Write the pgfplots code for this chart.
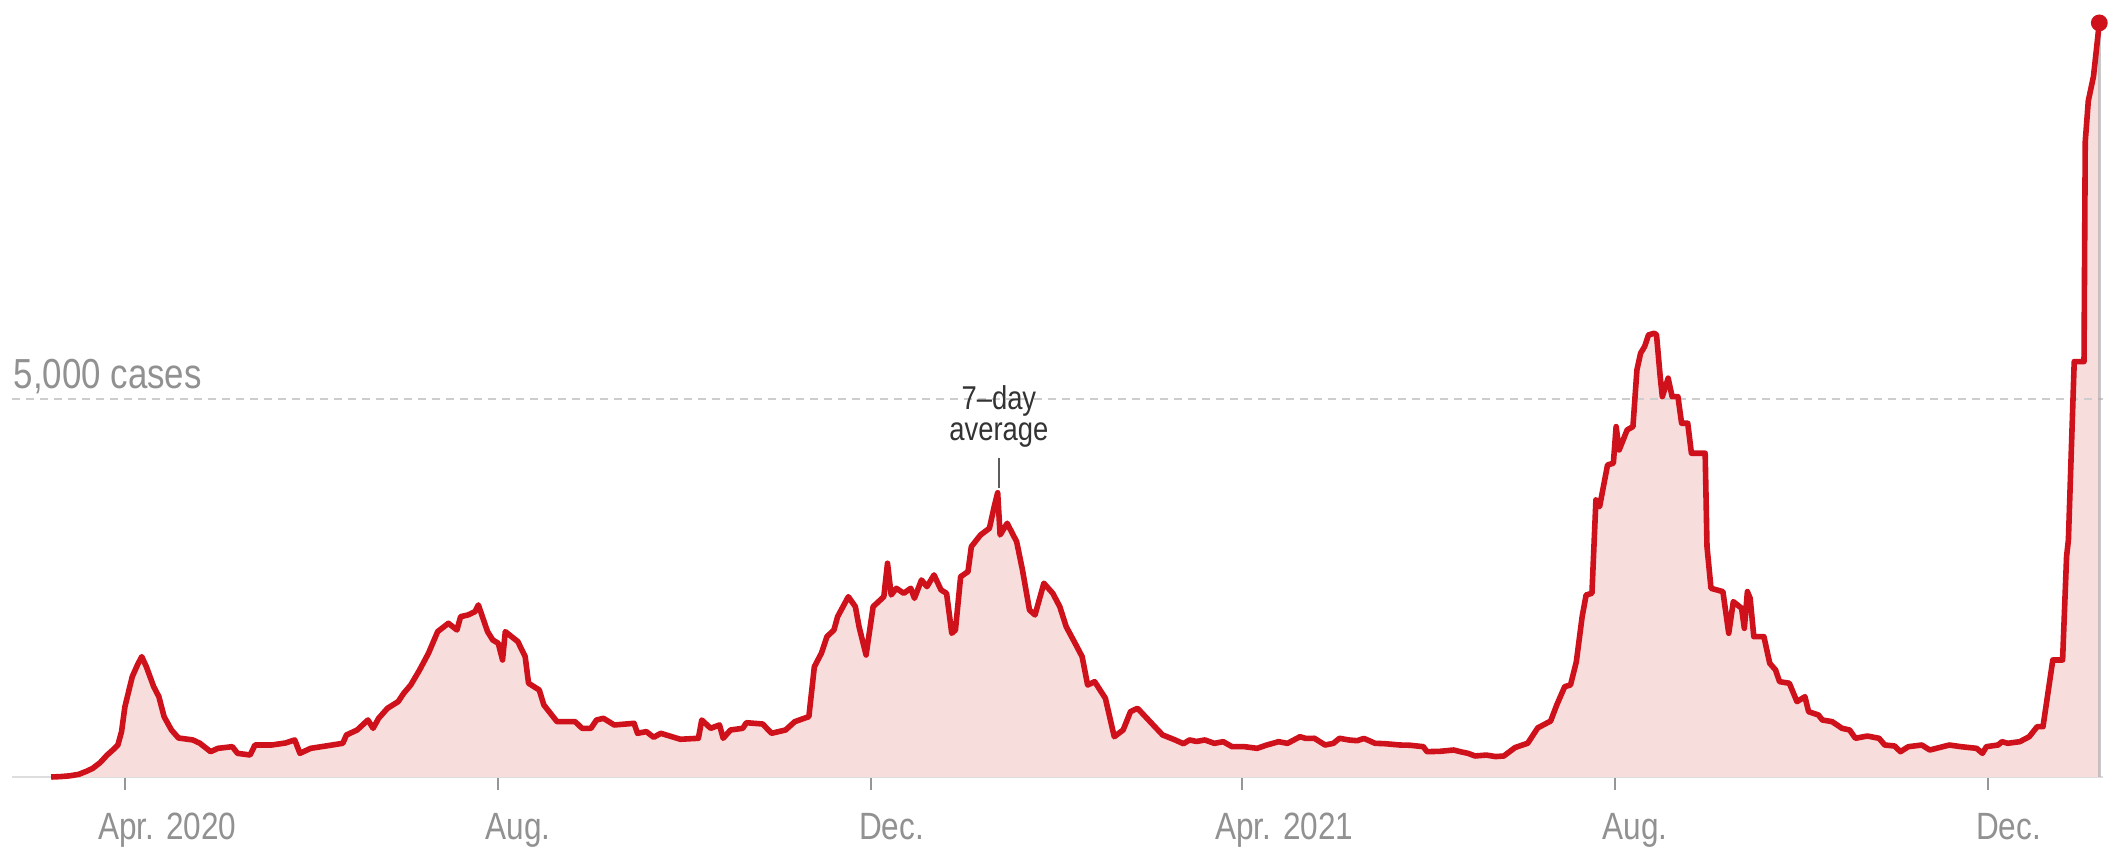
\documentclass[border=0pt]{standalone}
\usepackage{pgfplots}
\pgfplotsset{compat=1.18}
\usepackage{pgfplotstable}
\usepackage{fontspec}
\setmainfont{Liberation Sans}[FakeStretch=0.83]
\definecolor{linered}{RGB}{207,17,27}
\definecolor{fillpink}{RGB}{248,221,221}
\definecolor{dashgray}{RGB}{205,205,205}
\definecolor{basegray}{RGB}{221,221,221}
\definecolor{tickgray}{RGB}{150,150,150}
\definecolor{labelgray}{RGB}{145,145,145}
\definecolor{notegray}{RGB}{51,51,51}

\pgfplotstableread{
d v
-24 0
-21 5
-18 15
-15 35
-12.5 75
-10.4 115
-8 190
-5.7 291
-3.5 370
-2.2 423
-1 600
0.1 930
2.5 1327
4.2 1482
5.6 1592
7.1 1459
9.5 1195
11.2 1062
12.9 798
15.3 622
17.6 516
22.3 490
24.6 446
28.1 335
30.5 379
35.2 401
36.9 313
41 291
42.6 423
48 423
52.6 450
55.6 490
57.3 313
60.8 379
67.8 423
71.3 446
72.5 556
76 622
79.5 754
81.2 644
83 776
85.9 909
89.4 997
91.2 1107
93.5 1217
96.4 1416
99.3 1637
102.3 1923
105.8 2033
108.6 1945
109.8 2121
112.2 2143
114.5 2187
115.6 2276
118.6 1923
120.3 1813
122.1 1769
123.5 1548
124.4 1923
128.5 1791
130.9 1592
132 1240
135.5 1151
137 953
141.3 732
147.2 732
149.5 644
152.4 644
154.2 754
156.5 776
160 688
166.5 710
167.6 578
170.5 600
172.9 525
175.2 578
181.6 499
187.5 512
188.6 754
191.5 644
194.4 688
195.6 512
198 622
202 644
203.2 718
208.5 701
211.4 578
216 622
219 732
223.6 798
225.4 1459
227.7 1637
229.5 1856
231.8 1945
233 2121
236.5 2385
238.8 2253
240 1988
242.3 1614
244.6 2253
248.1 2385
249.3 2827
250.5 2408
252.2 2496
254.6 2430
256.9 2496
258.1 2364
260.4 2606
262.2 2518
264.5 2673
266.8 2474
268.6 2430
270.3 1901
271.5 1945
273.2 2650
275.6 2716
276.7 3047
279.7 3202
282.6 3290
284.3 3600
285.3 3760
286.1 3202
288.4 3356
291.5 3113
293.4 2739
295.7 2209
297.5 2143
300.4 2563
303.3 2430
305.6 2253
307.7 1988
310.6 1769
312.9 1592
314.7 1217
317 1261
320.5 1041
323.4 533
326.3 622
328.7 864
331 909
335.1 732
339.2 556
343.3 490
346 440
348 490
350.3 470
353 490
356.1 445
359 467
361.9 401
366 401
370.1 379
373 420
377.1 467
380 445
384.1 533
386 510
388.8 512
392.3 423
395 445
397 512
400 490
402.8 480
405 510
408.6 446
412 440
416.8 423
420 420
424.4 401
425.6 335
430 340
434.3 357
437 330
439 313
441.3 278
445 290
448 270
450.7 278
454.4 390
458.5 446
461.8 650
466 740
468 953
470.6 1195
472.5 1217
474.4 1525
476.3 2121
477.6 2408
479.5 2430
480.8 3665
482 3576
484.6 4128
486.5 4150
487.4 4635
488.4 4326
491 4591
492.9 4635
494.2 5385
495.4 5606
496.7 5693
498 5848
499.9 5870
500.6 5848
501.8 5296
502.5 5031
504.4 5275
505.7 5031
507.6 5031
508.8 4679
510.8 4679
512 4283
516.5 4283
517.1 3047
518.4 2496
522.3 2452
524.2 1901
525.7 2320
528.4 2232
529.3 1967
530.3 2452
531.2 2364
532.4 1856
535.7 1856
537.6 1504
539.5 1416
540.8 1261
544 1240
546.5 997
549.1 1062
550.3 864
553.5 820
554.8 754
558 732
561.2 644
563.7 622
565.6 512
569.5 542
573.3 512
575.2 423
578.4 410
580.3 335
582.9 401
587.3 423
589.9 357
596.3 423
600.1 401
605.2 379
607.1 313
608.4 401
612.2 423
613.5 467
615.4 446
619.3 467
622.4 533
625 666
626.9 666
630.1 1548
633.3 1548
634.6 2915
635.2 3135
637.1 5495
640.3 5495
640.7 8401
641.7 8943
643.4 9268
645.3 9975
}\cases

\begin{document}
\begin{tikzpicture}
\fill[white] (-3pt,-20pt) rectangle (525pt,194.25pt);
\path[use as bounding box] (-3pt,-20pt) rectangle (525pt,194.25pt);
\begin{axis}[
  at={(0,0)}, anchor=south west,
  width=522.75pt, height=194.25pt, scale only axis,
  xmin=-36.8, xmax=646.5, ymin=0, ymax=10278,
  axis x line=bottom, axis y line=none,
  x axis line style={-, draw=basegray, line width=0.5pt},
  xtick={0,122,244,365,487,609}, xticklabels={},
  tick align=outside, major tick length=3.25pt,
  xtick style={draw=tickgray, line width=0.5pt},
  ytick=\empty,
  clip=false,
]
\addplot[draw=none, fill=fillpink] table[x=d, y=v] {\cases} \closedcycle;
\addplot[dashgray, line width=0.5pt, dash pattern=on 2pt off 1.5pt] coordinates {(-36.8,5000) (646.5,5000)};
\addplot[black!35, opacity=0.6, line width=0.75pt] coordinates {(645.3,0) (645.3,9975)};
\addplot[linered, line width=1.4pt, line join=round] table[x=d, y=v] {\cases};
\addplot[only marks, mark=*, mark size=1.9pt, color=linered] coordinates {(645.3,9975)};

\node[anchor=base west, inner sep=0, text=labelgray, font=\fontsize{10.5pt}{12pt}\selectfont] at (axis cs:-36.5,5133) {5,000 cases};

\draw[notegray!80, line width=0.5pt] (axis cs:285.7,3823) -- (axis cs:285.7,4220);
\node[anchor=south, inner sep=0, align=center, text=notegray, font=\fontsize{8.25pt}{7.8pt}\selectfont] at (axis cs:285.7,4350) {7–day\\average};

\begin{scope}[every node/.style={anchor=base west, inner sep=0, text=labelgray, font=\fontsize{9.5pt}{11pt}\selectfont}]
\node[xshift=-6.75pt, yshift=-15.75pt] at (axis cs:0,0) {Apr. 2020};
\node[xshift=-3.25pt, yshift=-15.75pt] at (axis cs:122,0) {Aug.};
\node[xshift=-3.25pt, yshift=-15.75pt] at (axis cs:244,0) {Dec.};
\node[xshift=-6.75pt, yshift=-15.75pt] at (axis cs:365,0) {Apr. 2021};
\node[xshift=-3.25pt, yshift=-15.75pt] at (axis cs:487,0) {Aug.};
\node[xshift=-3.25pt, yshift=-15.75pt] at (axis cs:609,0) {Dec.};
\end{scope}
\end{axis}
\end{tikzpicture}
\end{document}
